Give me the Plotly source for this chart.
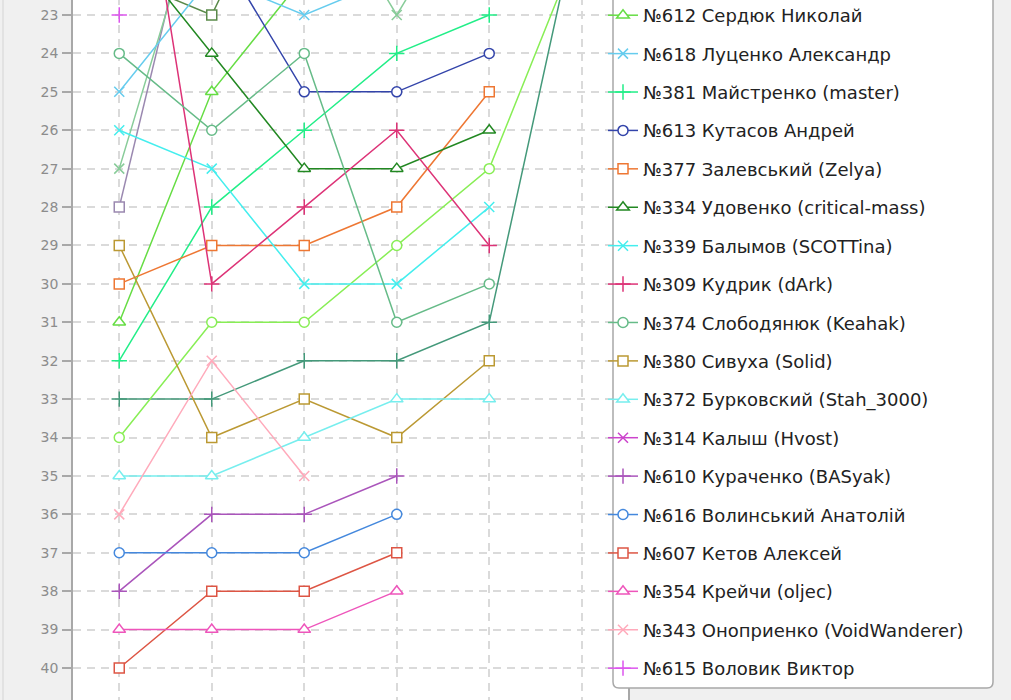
import plotly.graph_objects as go

# ---------------- data ----------------
rounds = [1, 2, 3, 4, 5, 6]
y_ticks = list(range(23, 41))

# series shown in the visible part of the legend (legend order)
names = [
    "№612 Сердюк Николай",
    "№618 Луценко Александр",
    "№381 Майстренко (master)",
    "№613 Кутасов Андрей",
    "№377 Залевський (Zelya)",
    "№334 Удовенко (critical-mass)",
    "№339 Балымов (SCOTTina)",
    "№309 Кудрик (dArk)",
    "№374 Слободянюк (Keahak)",
    "№380 Сивуха (Solid)",
    "№372 Бурковский (Stah_3000)",
    "№314 Калыш (Hvost)",
    "№610 Кураченко (BASyak)",
    "№616 Волинський Анатолій",
    "№607 Кетов Алексей",
    "№354 Крейчи (oljec)",
    "№343 Оноприенко (VoidWanderer)",
    "№615 Воловик Виктор",
]

s612 = [31, 25, 22, 21, 21, None]
s618 = [25, 22, 23, 22, 22, None]
s381 = [32, 28, 26, 24, 23, None]
s613 = [None, 21, 25, 25, 24, None]
s377 = [30, 29, 29, 28, 25, None]
s334 = [21, 24, 27, 27, 26, None]
s339 = [26, 27, 30, 30, 28, None]
s309 = [15, 30, 28, 26, 29, None]
s374 = [24, 26, 24, 31, 30, None]
s380 = [29, 34, 33, 34, 32, None]
s372 = [35, 35, 34, 33, 33, None]
s314 = [None, None, None, 20, None, None]
s610 = [38, 36, 36, 35, None, None]
s616 = [37, 37, 37, 36, None, None]
s607 = [40, 38, 38, 37, None, None]
s354 = [39, 39, 39, 38, None, None]
s343 = [36, 32, 35, None, None, None]
s615 = [23, None, None, None, None, None]

# series whose legend entries lie above the visible area
h_teal = [33, 33, 32, 32, 31, 20]
h_lime = [34, 31, 31, 29, 27, 21]
h_olive = [22, 23, 18, None, None, None]
h_lilac = [28, 18, None, None, None, None]
h_mint = [27, 19, 19, 23, 19, None]

legend_values = [s612, s618, s381, s613, s377, s334, s339, s309, s374,
                 s380, s372, s314, s610, s616, s607, s354, s343, s615]
hidden_values = [h_teal, h_lime, h_olive, h_lilac, h_mint]

# ---------------- styles ----------------
legend_colors = ["#66dd44", "#66ccee", "#22ee88", "#3344aa", "#ee7733",
                 "#228822", "#44eeee", "#dd3377", "#66bb88", "#bb9933",
                 "#77eeee", "#cc44cc", "#aa55bb", "#4488dd", "#dd5544",
                 "#ee55bb", "#ffaabb", "#dd55ee"]
hidden_colors = ["#44997a", "#88ee55", "#5a8a4a", "#9a88b0", "#88cc99"]

cycle = ["triangle-up", "x-thin", "cross-thin", "circle", "square"]
legend_symbols = [cycle[i % 5] for i in range(len(names))]
hidden_symbols = ["cross-thin", "circle", "square", "square", "x-thin"]


def marker_for(sym, col):
    if sym in ("x-thin", "cross-thin"):
        return dict(symbol=sym, size=11 if sym == "cross-thin" else 10,
                    color=col, line=dict(color=col, width=1.5))
    size = 11 if sym == "triangle-up" else 10
    return dict(symbol=sym, size=size, color="white",
                line=dict(color=col, width=1.5))


fig = go.Figure()

for vals, col, sym in zip(hidden_values, hidden_colors, hidden_symbols):
    fig.add_trace(go.Scatter(
        x=rounds, y=vals, mode="lines+markers", showlegend=False,
        line=dict(color=col, width=1.5), marker=marker_for(sym, col),
        hoverinfo="skip"))

for i, (nm, vals, col, sym) in enumerate(zip(names, legend_values, legend_colors, legend_symbols)):
    fig.add_trace(go.Scatter(
        x=rounds, y=vals, mode="lines+markers", name=nm,
        legendgroup="g%d" % i,
        line=dict(color=col, width=1.5), marker=marker_for(sym, col),
        hoverinfo="skip"))

# ---------------- layout ----------------
OFF = 3                      # figure is shifted up by OFF px on the page
W, H = 1011, 700 + OFF
L, R = 73, 628
pw = R - L
FS = 18
item_h = FS * 1.3 + 3
gap = 38.41 - item_h
ppu = 38.41                  # pixels per rank unit


def px_x(px):
    return (px - L) / pw


def px_y(py):               # py in screen pixels
    return (H - (py + OFF)) / H


bx0, bx1, by = px_x(613), px_x(993), px_y(688)
rx, ry = 6 / pw, 6 / H
box_path = (f"M {bx0},1.05 L {bx0},{by + ry} Q {bx0},{by} {bx0 + rx},{by} "
            f"L {bx1 - rx},{by} Q {bx1},{by} {bx1},{by + ry} L {bx1},1.05 Z")

y_top = 23 - (15 + OFF) / ppu
y_bot = 40 + (700 - 668) / ppu

fig.update_layout(
    width=W, height=H,
    margin=dict(l=L, r=W - R, t=0, b=0, pad=0),
    paper_bgcolor="#f0f0f0",
    plot_bgcolor="#ffffff",
    showlegend=True,
    legend=dict(
        x=px_x(603), xanchor="left",
        y=1, yanchor="top",
        bgcolor="rgba(0,0,0,0)", borderwidth=0,
        traceorder="grouped", tracegroupgap=gap,
        font=dict(family="DejaVu Sans", size=FS, color="#222222"),
    ),
    shapes=[
        dict(type="path", xref="paper", yref="paper", path=box_path,
             fillcolor="#ffffff", line=dict(color="#a8a8a8", width=1.5),
             layer="above"),
        dict(type="line", xref="paper", yref="paper",
             x0=px_x(3), x1=px_x(3), y0=0, y1=1,
             line=dict(color="#d4d4d4", width=1)),
    ],
)

fig.update_xaxes(
    range=[0.5, 6.5], tickvals=rounds, showticklabels=False, ticks="",
    showline=False, zeroline=False,
    showgrid=True, gridcolor="#dadada", gridwidth=1.5, griddash="8px,6px",
)
fig.update_yaxes(
    range=[y_bot, y_top], tickvals=y_ticks,
    ticktext=[str(v) for v in y_ticks],
    ticks="outside", ticklen=9, tickwidth=1.5, tickcolor="#a8a8a8",
    ticklabelstandoff=1,
    tickfont=dict(family="DejaVu Sans", size=14, color="#8c8c8c"),
    showline=True, linecolor="#a8a8a8", linewidth=1.5, mirror=True,
    zeroline=False,
    showgrid=True, gridcolor="#dadada", gridwidth=1.5, griddash="8px,6px",
)

fig.write_html(
    "out.html", config={"displayModeBar": False},
    post_script="document.body.style.margin='0';"
                "document.body.style.marginTop='-%dpx';" % OFF)
